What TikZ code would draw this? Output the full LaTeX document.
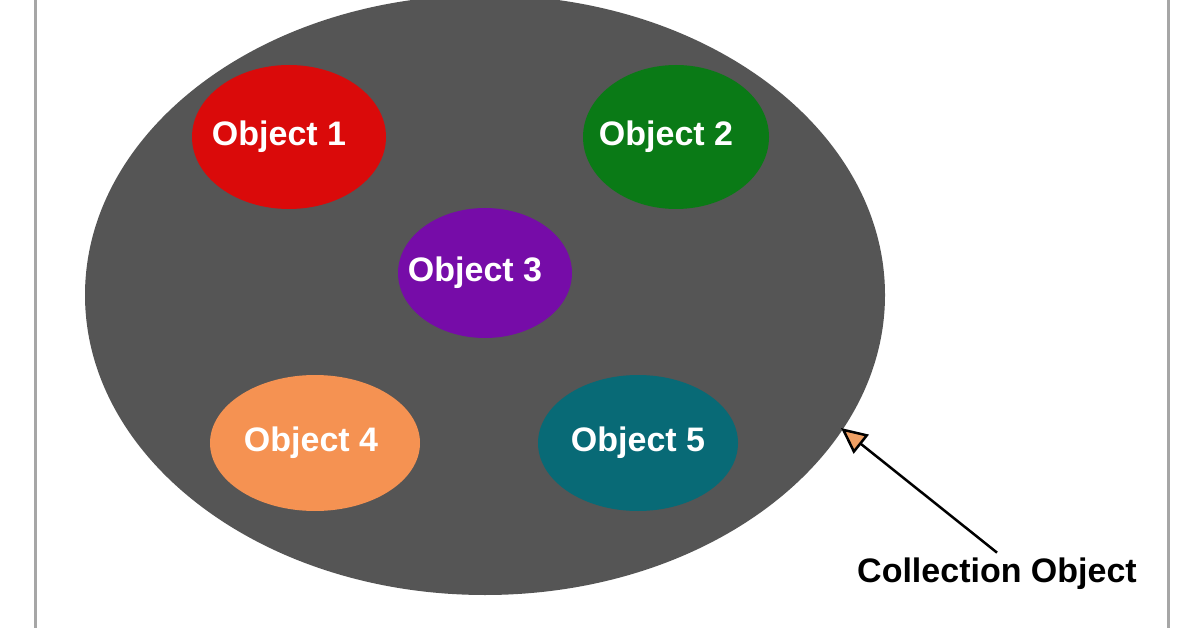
\documentclass[tikz,border=0pt]{standalone}
\usepackage{fontspec}
\setmainfont{Liberation Sans}
\usetikzlibrary{arrows.meta}
\definecolor{bgcoll}{RGB}{85,85,85}
\definecolor{objred}{RGB}{218,10,10}
\definecolor{objgreen}{RGB}{10,122,22}
\definecolor{objpurple}{RGB}{118,12,168}
\definecolor{objorange}{RGB}{245,146,82}
\definecolor{objteal}{RGB}{8,106,118}
\definecolor{tipcol}{RGB}{240,160,100}
\tikzset{
  objtext/.style={text=white, font=\fontsize{34}{36}\selectfont\bfseries}
}
\begin{document}
\begin{tikzpicture}[x=1pt,y=-1pt]
\useasboundingbox (0,0) rectangle (1196,628);
\draw[gray!70, line width=3pt] (35,-10) -- (35,640);
\draw[gray!70, line width=3pt] (1168,-10) -- (1168,640);

\fill[bgcoll] (485,295) ellipse [x radius=400, y radius=300];

\fill[objred] (289,137) ellipse [x radius=97, y radius=72];
\node[objtext] (o1) at (279,137) {Object 1};
\fill[objgreen] (676,137) ellipse [x radius=93, y radius=72];
\node[objtext] (o2) at (666,137) {Object 2};
\fill[objpurple] (485,273) ellipse [x radius=87, y radius=65];
\node[objtext] (o3) at (475,273) {Object 3};
\fill[objorange] (315,443) ellipse [x radius=105, y radius=68];
\node[objtext] (o4) at (311,443) {Object 4};
\fill[objteal] (638,443) ellipse [x radius=100, y radius=68];
\node[objtext] (o5) at (638,443) {Object 5};

\node[font=\fontsize{34}{36}\selectfont\bfseries] (coll) at (997,574) {Collection Object};
\coordinate (tip) at (841,428);
\draw[line width=2.5pt, -{Triangle[length=26pt,width=24pt,fill=tipcol]}] (coll.north) ++(0,-2) -- (tip);
\end{tikzpicture}
\end{document}
